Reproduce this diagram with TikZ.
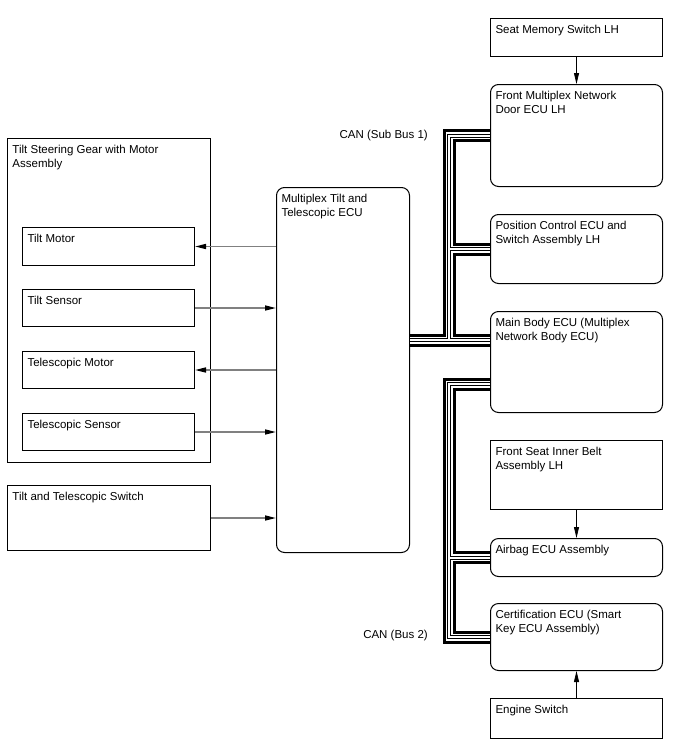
\documentclass[tikz,border=0pt]{standalone}
\usepackage{fontspec}
\setmainfont{Liberation Sans}
\usetikzlibrary{arrows.meta, positioning, calc}
% text set at the top left corner of a box
\newcommand{\blktext}[3]{\parbox[t][#2][t]{#1}{\vspace*{1.5pt}\raggedright #3}}

\begin{document}
\begin{tikzpicture}[
  x=1pt, y=-1pt,
  font=\fontsize{11.5}{14}\selectfont,
  box/.style={draw, line width=1pt, anchor=north west, inner sep=5pt},
  ecu/.style={box, rounded corners=8pt},
  sig/.style={draw=gray, line width=1.4pt, -{Triangle[length=11pt, width=5pt, color=black]}},
  feed/.style={draw=black, line width=0.8pt, -{Triangle[length=11pt, width=5pt]}},
  bus/.style={line width=3pt, double=white, double distance=7pt, line join=miter,
              postaction={draw, line width=1pt, double=white, double distance=2pt}},
  lbl/.style={anchor=east, inner sep=0pt}
]
\useasboundingbox (0,0) rectangle (688,755);

% Tilt steering side
\node[box] (gear) at (7,138)  {\blktext{193pt}{314pt}{Tilt Steering Gear with Motor\\ Assembly}};
\node[box] (tmot) at (22,227) {\blktext{162pt}{28pt}{Tilt Motor}};
\node[box] (tsen) at (22,289) {\blktext{162pt}{27pt}{Tilt Sensor}};
\node[box] (lmot) at (22,351) {\blktext{162pt}{27pt}{Telescopic Motor}};
\node[box] (lsen) at (22,413) {\blktext{162pt}{27pt}{Telescopic Sensor}};
\node[box] (tsw)  at (7,485)  {\blktext{193pt}{55pt}{Tilt and Telescopic Switch}};

% Multiplex ECU
\node[ecu] (mtt) at (276,187) {\blktext{123pt}{355pt}{Multiplex Tilt and\\ Telescopic ECU}};

% Right column
\node[box] (seat) at (490,18)  {\blktext{162pt}{28pt}{Seat Memory Switch LH}};
\node[ecu] (door) at (490,84)  {\blktext{162pt}{92pt}{Front Multiplex Network\\ Door ECU LH}};
\node[ecu] (pos)  at (490,214) {\blktext{162pt}{59pt}{Position Control ECU and\\ Switch Assembly LH}};
\node[ecu] (body) at (490,311) {\blktext{162pt}{91pt}{Main Body ECU (Multiplex\\ Network Body ECU)}};
\node[box] (belt) at (490,440) {\blktext{162pt}{59pt}{Front Seat Inner Belt\\ Assembly LH}};
\node[ecu] (bag)  at (490,538) {\blktext{162pt}{28pt}{Airbag ECU Assembly}};
\node[ecu] (cert) at (490,603) {\blktext{162pt}{57pt}{Certification ECU (Smart\\ Key ECU Assembly)}};
\node[box] (eng)  at (490,698) {\blktext{162pt}{30pt}{Engine Switch}};

% bus junctions
\coordinate (j1) at (449,340);
\coordinate (j2) at (449,384);

% CAN (Sub Bus 1)
\draw[bus] (mtt.east |- j1) -- (body.west |- j1)
  (j1) |- (door.west)
  (j1 |- pos.west) -- (pos.west);

% CAN (Bus 2)
\draw[bus] (body.west |- j2) -- (j2) |- (cert.west)
  (j2 |- bag.west) -- (bag.west);

\node[lbl] (can1) at (428,136) {CAN (Sub Bus 1)};
\node[lbl] (can2) at (428,636) {CAN (Bus 2)};

% signals to and from the ECU
\draw[sig] (mtt.west |- tmot.east) -- (tmot.east);
\draw[sig] (tsen.east) -- (tsen.east -| mtt.west);
\draw[sig] (mtt.west |- lmot.east) -- (lmot.east);
\draw[sig] (lsen.east) -- (lsen.east -| mtt.west);
\draw[sig] (tsw.east) -- (tsw.east -| mtt.west);

% switch inputs
\draw[feed] (seat.south) -- (door.north);
\draw[feed] (belt.south) -- (bag.north);
\draw[feed] (eng.north) -- (cert.south);

\end{tikzpicture}
\end{document}
